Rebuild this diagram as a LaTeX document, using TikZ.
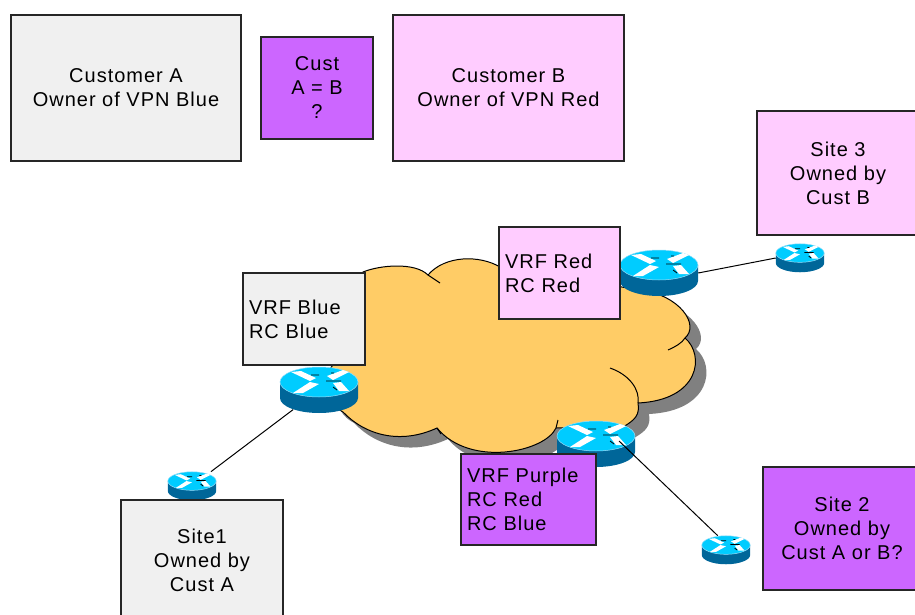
\documentclass[tikz,border=0pt]{standalone}
\usepackage{fontspec}
\setmainfont[LetterSpace=5]{Liberation Sans}
\usetikzlibrary{positioning}

\definecolor{custgrey}{HTML}{F0F0F0}
\definecolor{custpurple}{HTML}{CC66FF}
\definecolor{custpink}{HTML}{FFCCFF}
\definecolor{cloudfill}{HTML}{FFCC66}
\definecolor{routertop}{HTML}{00CCFF}
\definecolor{routerside}{HTML}{006699}

% Outline of the provider cloud, in pixels of the reference.
\newcommand{\cloudoutline}{
  (363,272) .. controls (380,265) and (415,262) .. (428,275)
  .. controls (445,255) and (480,255) .. (500,267)
  -- (640,290) .. controls (680,295) and (700,325) .. (685,338)
  .. controls (705,355) and (700,400) .. (638,403)
  .. controls (640,415) and (635,420) .. (623,427)
  -- (556,428) .. controls (545,452) and (470,468) .. (437,428)
  .. controls (400,445) and (365,435) .. (343,412)
  .. controls (320,400) and (320,370) .. (340,360) -- cycle}

\tikzset{
  box/.style={draw=black!85, line width=1.3pt, inner sep=6pt, align=center,
    font=\fontsize{20}{24}\selectfont},
  vrfbox/.style={box, align=left},
  routerbody/.style={rectangle, minimum width=78pt, minimum height=46pt,
    inner sep=0pt, transform shape},
  router/.pic={
    % Cylinder first, then the lid with its cross of arrows.
    \node[routerbody] (-box) at (0,0) {};
    \fill[routerside] (-39,-8) -- (-39,8) arc[start angle=180, end angle=0,
      x radius=39, y radius=15] -- (39,-8) -- cycle;
    \fill[routertop, draw=cyan!40!white, line width=.5pt] (0,-8)
      ellipse[x radius=39, y radius=15];
    \fill[white] (-28,-18) -- (-18,-19) -- (-3,-12) -- (-9,-9) -- cycle;
    \fill[white] (-26,3) -- (-16,3) -- (0,-6) -- (-9,-8) -- cycle;
    \fill[white] (8,-14) -- (24,-20) -- (30,-18) -- (14,-10) -- cycle;
    \fill[white] (14,-7) -- (22,-8) -- (30,1) -- (20,1) -- cycle;
    \draw[black, line width=.8pt] (-8,-15) -- (0,-15) (7,-9) -- (22,-9)
      (12,-17) -- (15,-17) (14,-3) -- (18,0);
  },
}

\begin{document}
\begin{tikzpicture}[x=1pt, y=-1pt]
  \useasboundingbox (0,0) rectangle (915,615);
  \clip (0,0) rectangle (915,615);

  % The cloud and its shadow.
  \fill[black!50] [shift={(11,11)}] \cloudoutline;
  \draw[black, line width=1pt, fill=cloudfill] \cloudoutline;
  \draw[black, line width=1pt]
    (428,275) -- (440,283)
    (556,428) -- (558,420)
    (610,368) .. controls (630,375) and (640,390) .. (638,403)
    (668,350) .. controls (675,347) and (682,343) .. (685,338)
    (437,428) -- (441,434);

  % Routers: three on the edge of the cloud, one at each site.
  \pic (rBlue) at (319,390) {router};
  \pic (rRed) at (659,273) {router};
  \pic (rPurple) at (596,444) {router};
  \pic[scale=.62] (rSite1) at (192,486) {router};
  \pic[scale=.62] (rSite2) at (726,550) {router};
  \pic[scale=.62] (rSite3) at (800,258) {router};
  \coordinate (hubPurple) at (619,441);

  % Links.
  \draw[line width=1pt, shorten <=-6pt] (rBlue-box) -- (rSite1-box);
  \draw[line width=1pt] (rRed-box.east) -- (rSite3-box.west);
  \draw[line width=1pt] (hubPurple) -- (rSite2-box.120);

  % Customer boxes along the top.
  \node[box, fill=custgrey, minimum width=230pt, minimum height=146pt]
    (custA) at (126,88) {Customer A\\Owner of VPN Blue};
  \node[box, fill=custpurple, minimum width=112pt, minimum height=102pt]
    (custQ) at (317,88) {Cust\\A = B\\?};
  \node[box, fill=custpink, minimum width=231pt, minimum height=146pt]
    (custB) at (508.5,88) {Customer B\\Owner of VPN Red};

  % VRF boxes on the routers.
  \node[vrfbox, fill=custgrey, text width=110pt, minimum height=92pt]
    (vrfBlue) at (304,319) {VRF Blue\\RC Blue};
  \node[vrfbox, fill=custpink, text width=109pt, minimum height=92pt]
    (vrfRed) at (559.5,273) {VRF Red\\RC Red};
  \node[vrfbox, fill=custpurple, text width=123pt, minimum height=91pt]
    (vrfPurple) at (528.5,499.5) {VRF Purple\\RC Red\\RC Blue};

  % Site boxes, cut off by the edge of the page.
  \node[box, fill=custgrey, minimum width=162pt, minimum height=120pt]
    (site1) at (202,560) {Site1\\Owned by\\Cust A};
  \node[box, fill=custpurple, minimum width=158pt, minimum height=123pt]
    (site2) at (842,528.5) {Site 2\\Owned by\\Cust A or B?};
  \node[box, fill=custpink, minimum width=162pt, minimum height=124pt]
    (site3) at (838,173) {Site 3\\Owned by\\Cust B};
\end{tikzpicture}
\end{document}
